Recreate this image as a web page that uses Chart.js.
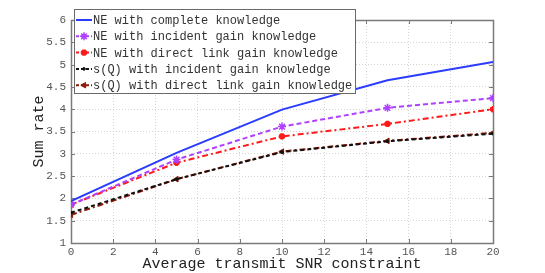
<!DOCTYPE html>
<html><head><meta charset="utf-8">
<script src="https://cdn.jsdelivr.net/npm/chart.js@4"></script>
<style>html,body{margin:0;padding:0;background:#fff}#wrap{width:545px;height:273px}</style>
</head><body><div id="wrap"><canvas id="c" width="545" height="273"></canvas></div>
<script>
const snr = [0, 5, 10, 15, 20];
const neComplete = [1.94, 3.02, 3.99, 4.65, 5.06];
const neIncident = [1.86, 2.87, 3.61, 4.03, 4.25];
const neDirect = [1.86, 2.80, 3.39, 3.67, 4.00];
const sqIncident = [1.68, 2.43, 3.04, 3.28, 3.45];
const sqDirect = [1.63, 2.43, 3.05, 3.29, 3.47];
const seriesLabels = [
  'NE with complete knowledge',
  'NE with incident gain knowledge',
  'NE with direct link gain knowledge',
  's(Q) with incident gain knowledge',
  's(Q) with direct link gain knowledge'
];
const xTitle = 'Average transmit SNR constraint';
const yTitle = 'Sum rate';

const mono = "'Liberation Mono','DejaVu Sans Mono',monospace";
function pts(vals){ return snr.map((x,i)=>({x:x,y:vals[i]})); }

const styles = [
  {color:'#2a3cff', dash:[], pointStyle:false, radius:0, rot:0, bw:2, pbw:1},
  {color:'#b040ff', dash:[5,3], pointStyle:'star', radius:4, rot:0, bw:2, pbw:1.5},
  {color:'#ff1a1a', dash:[6,3,2,3], pointStyle:'star', radius:3.2, rot:0, bw:2, pbw:2.5},
  {color:'#111111', dash:[4,3], pointStyle:'circle', radius:1.3, rot:0, bw:2, pbw:1},
  {color:'#8b1a0a', dash:[6,3,2,3], pointStyle:'triangle', radius:3.2, rot:-90, bw:2, pbw:1}
];
const allVals = [neComplete, neIncident, neDirect, sqIncident, sqDirect];
const datasets = allVals.map((v,i)=>({
  label: seriesLabels[i],
  data: pts(v),
  borderColor: styles[i].color,
  backgroundColor: styles[i].color,
  borderDash: styles[i].dash,
  borderWidth: styles[i].bw,
  pointStyle: styles[i].pointStyle,
  pointRadius: styles[i].radius,
  pointBorderWidth: styles[i].pbw,
  pointBorderColor: styles[i].color,
  pointBackgroundColor: styles[i].color,
  rotation: styles[i].rot,
  tension: 0,
  fill: false
}));

const boxPlugin = {
  id:'boxPlugin',
  beforeDatasetsDraw(chart){
    const {ctx, chartArea:a, scales} = chart;
    ctx.save();
    ctx.strokeStyle = '#7a7a7a';
    ctx.lineWidth = 1;
    ctx.setLineDash([]);
    ctx.beginPath();
    scales.x.ticks.forEach(t=>{
      const px = Math.round(scales.x.getPixelForValue(t.value))+0.5;
      ctx.moveTo(px, a.bottom); ctx.lineTo(px, a.bottom-4);
      ctx.moveTo(px, a.top); ctx.lineTo(px, a.top+4);
    });
    scales.y.ticks.forEach(t=>{
      const py = Math.round(scales.y.getPixelForValue(t.value))+0.5;
      ctx.moveTo(a.left, py); ctx.lineTo(a.left+4, py);
      ctx.moveTo(a.right, py); ctx.lineTo(a.right-4, py);
    });
    ctx.stroke();
    ctx.lineWidth = 1.5;
    ctx.strokeRect(Math.round(a.left)+0.5, Math.round(a.top)+0.5, Math.round(a.right-a.left), Math.round(a.bottom-a.top));
    ctx.restore();
  },
  afterDraw(chart){
    const ctx = chart.ctx;
    const a = chart.chartArea;
    const x0 = a.left+3, y0 = 9, w = 281, h = 84;
    ctx.save();
    ctx.fillStyle = '#fff';
    ctx.fillRect(x0, y0, w, h);
    ctx.strokeStyle = '#6a6a6a';
    ctx.lineWidth = 1;
    ctx.strokeRect(x0+0.5, y0+0.5, w, h);
    ctx.font = '12px ' + mono;
    ctx.textBaseline = 'middle';
    chart.data.datasets.forEach((ds,i)=>{
      const cy = y0 + 11 + i*16.3;
      ctx.strokeStyle = ds.borderColor;
      ctx.lineWidth = 2;
      ctx.setLineDash(ds.borderDash.length ? [3,2] : []);
      ctx.beginPath(); ctx.moveTo(x0+2, cy); ctx.lineTo(x0+18, cy); ctx.stroke();
      ctx.setLineDash([]);
      if (ds.pointStyle) {
        ctx.fillStyle = ds.borderColor;
        ctx.strokeStyle = ds.borderColor;
        ctx.lineWidth = ds.pointBorderWidth;
        Chart.helpers.drawPoint(ctx, {pointStyle: ds.pointStyle, radius: ds.pointRadius, rotation: ds.rotation, borderWidth: ds.pointBorderWidth}, x0+10, cy);
      }
      ctx.fillStyle = '#333';
      ctx.fillText(ds.label, x0+19, cy+1);
    });
    ctx.restore();
  }
};

new Chart(document.getElementById('c'), {
  type:'line',
  data:{datasets: datasets},
  options:{
    responsive:false,
    animation:false,
    events:[],
    layout:{padding:{top:20, right:52, left:0, bottom:0}},
    plugins:{legend:{display:false}, tooltip:{enabled:false}},
    scales:{
      x:{
        type:'linear', min:0, max:20,
        afterFit(s){ s.height = 30; },
        ticks:{stepSize:2, color:'#555', font:{family:mono, size:11}, padding:2, maxRotation:0, autoSkip:false},
        grid:{color:'#d4d4d4', drawTicks:false, lineWidth:1},
        border:{display:false, dash:[1,2]},
        title:{display:true, text:xTitle, color:'#222', font:{family:mono, size:15}, padding:{top:-4, bottom:0}}
      },
      y:{
        type:'linear', min:1, max:6,
        afterFit(s){ s.width = 71; },
        ticks:{stepSize:0.5, color:'#555', font:{family:mono, size:11}, padding:5, autoSkip:false,
          callback:v=>String(v)},
        grid:{color:'#d4d4d4', drawTicks:false, lineWidth:1},
        border:{display:false, dash:[1,2]},
        title:{display:true, text:yTitle, color:'#222', font:{family:mono, size:15}, padding:{top:30,bottom:0}}
      }
    }
  },
  plugins:[boxPlugin]
});
</script>
</body></html>
